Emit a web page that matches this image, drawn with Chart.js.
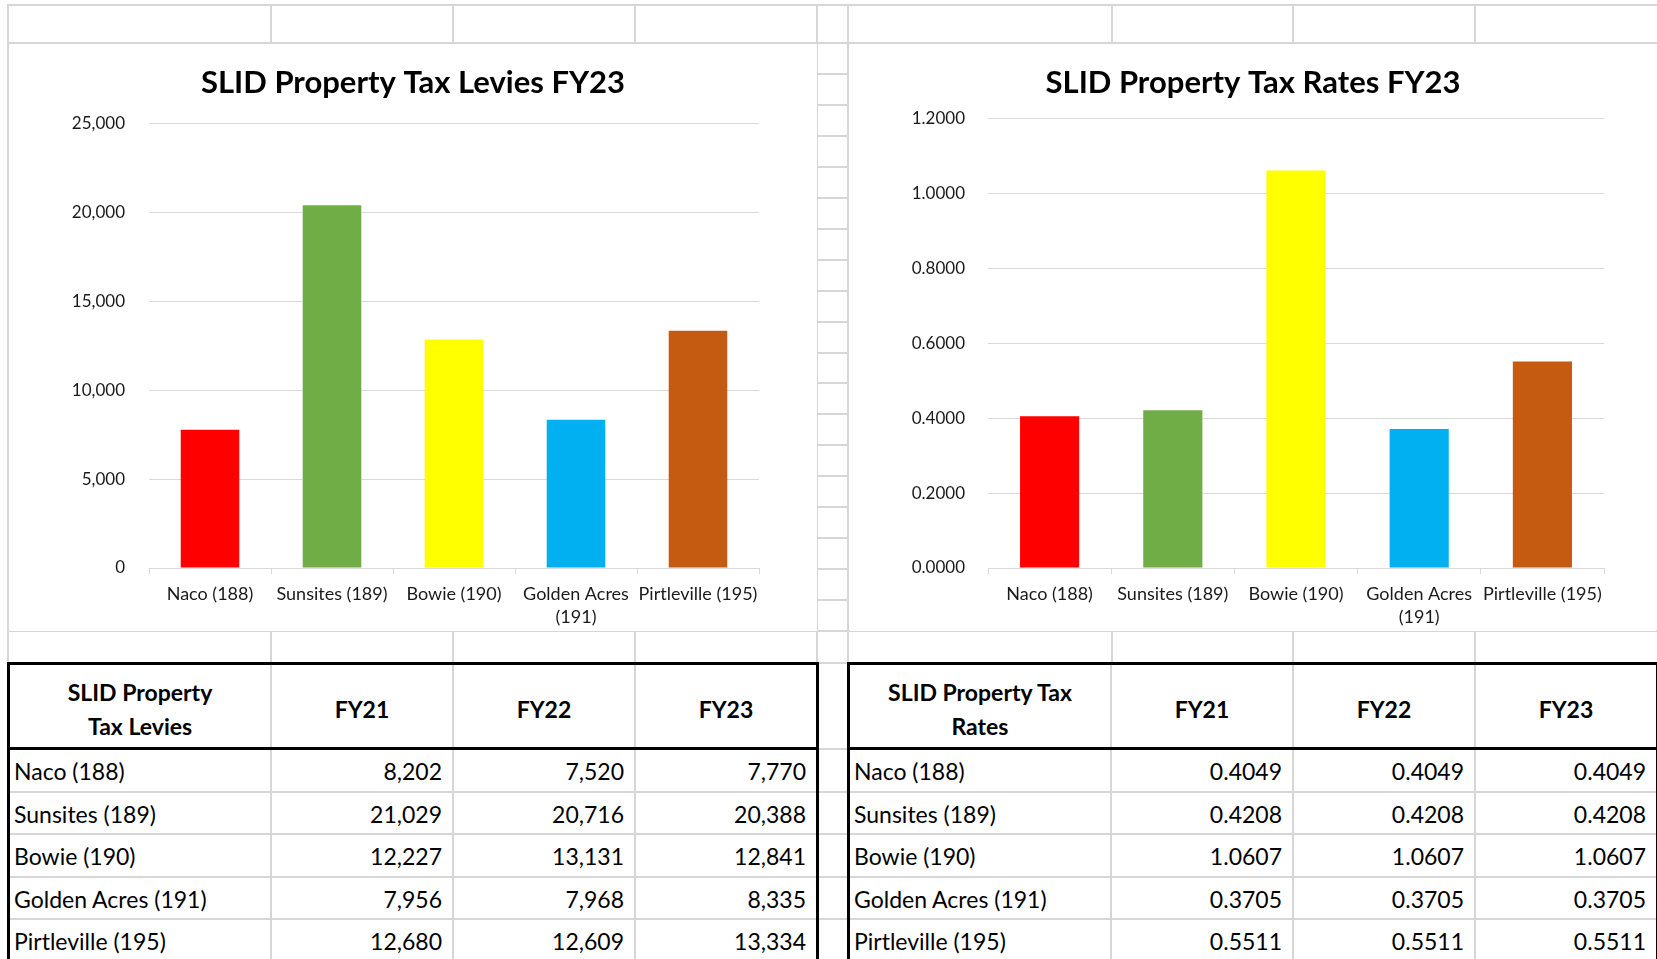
<!DOCTYPE html>
<html>
<head>
<meta charset="utf-8">
<title>SLID Property Tax FY23</title>
<script src="https://cdn.jsdelivr.net/npm/chart.js@4.4.1/dist/chart.umd.min.js"></script>
<style>
  html, body { margin:0; padding:0; background:#fff; overflow:hidden; width:1657px; height:959px; font-family:Lato, "Open Sans", sans-serif; }
  .gl { position:absolute; background:#d6d6d6; }
  .chartbox { position:absolute; background:#fff; }
  .tbl { position:absolute; box-sizing:border-box; border:3px solid #000; width:812px; color:#000; font-size:23px; background:#fff; }
  .row { display:grid; grid-template-columns:262px 182px 182px 180px; border-bottom:2px solid #d6d6d6; height:40.5px; }
  .row.head { height:82px; border-bottom:3px solid #000; }
  .cell { border-right:2px solid #d6d6d6; display:flex; align-items:center; overflow:hidden; white-space:nowrap; box-sizing:border-box; }
  .cell:last-child { border-right:none; }
  .head .cell { justify-content:center; text-align:center; font-weight:bold; white-space:normal; line-height:34px; padding-top:6px; }
  .cell.name { padding-left:4px; padding-top:2px; }
  .cell.num { justify-content:flex-end; padding-right:10px; padding-top:2px; }
</style>
</head>
<body>
<div id="lines"></div>
<div class="chartbox" style="left:9px;top:44px;width:808px;height:587px;"><canvas id="leviesChart"></canvas></div>
<div class="chartbox" style="left:850px;top:44px;width:806px;height:587px;"><canvas id="ratesChart"></canvas></div>
<div class="tbl" id="leviesTable" style="left:7px;top:662px;"></div>
<div class="tbl" id="ratesTable" style="left:847px;top:662px;"></div>

<script>
// districts
const districts = ["Naco (188)", "Sunsites (189)", "Bowie (190)", "Golden Acres (191)", "Pirtleville (195)"];
const axisLabels = ["Naco (188)", "Sunsites (189)", "Bowie (190)", ["Golden Acres", "(191)"], "Pirtleville (195)"];
const years = ["FY21", "FY22", "FY23"];

// levies
const leviesFY21 = [8202, 21029, 12227, 7956, 12680];
const leviesFY22 = [7520, 20716, 13131, 7968, 12609];
const leviesFY23 = [7770, 20388, 12841, 8335, 13334];

// rates
const ratesFY21 = [0.4049, 0.4208, 1.0607, 0.3705, 0.5511];
const ratesFY22 = [0.4049, 0.4208, 1.0607, 0.3705, 0.5511];
const ratesFY23 = [0.4049, 0.4208, 1.0607, 0.3705, 0.5511];

const barColors = ["#FF0000", "#70AD47", "#FFFF00", "#00B0F0", "#C55A11"];

// sheet grid lines behind / around the charts
const linesEl = document.getElementById("lines");
function hline(y, x1, x2) {
  const d = document.createElement("div");
  d.className = "gl";
  d.style.cssText = `left:${x1}px;top:${y-1}px;width:${x2-x1}px;height:2px;`;
  linesEl.appendChild(d);
}
function vline(x, y1, y2) {
  const d = document.createElement("div");
  d.className = "gl";
  d.style.cssText = `left:${x-1}px;top:${y1}px;width:2px;height:${y2-y1}px;`;
  linesEl.appendChild(d);
}
const colX = [8, 271, 453, 635, 817, 848, 1112, 1293, 1475];
hline(5, 7, 1657); hline(43, 7, 1657); hline(631, 7, 1657); hline(663, 7, 1657);
colX.forEach(x => { vline(x, 4, 44); vline(x, 630, 664); });
vline(8, 43, 632); vline(817, 4, 959); vline(848, 4, 959);
for (let k = 1; k < 19; k++) hline(43 + k * 30.95, 817, 848);
[749, 791.5, 834, 876.5, 919].forEach(y => hline(y, 817, 848));

// tables
function buildTable(el, title, cols, fmt) {
  let html = `<div class="row head"><div class="cell">${title}</div>` +
    years.map(y => `<div class="cell">${y}</div>`).join("") + `</div>`;
  districts.forEach((d, i) => {
    html += `<div class="row"><div class="cell name">${d}</div>` +
      cols.map(c => `<div class="cell num">${fmt(c[i])}</div>`).join("") + `</div>`;
  });
  el.innerHTML = html;
}
buildTable(document.getElementById("leviesTable"), "SLID Property<br>Tax Levies",
  [leviesFY21, leviesFY22, leviesFY23], v => v.toLocaleString("en-US"));
buildTable(document.getElementById("ratesTable"), "SLID Property Tax<br>Rates",
  [ratesFY21, ratesFY22, ratesFY23], v => v.toFixed(4));

// charts
Chart.defaults.font.family = "Lato, 'Open Sans', sans-serif";
Chart.defaults.color = "#1a1a1a";

function makeChart(id, title, values, opts) {
  return new Chart(document.getElementById(id), {
    type: "bar",
    data: {
      labels: axisLabels,
      datasets: [{ data: values, backgroundColor: barColors, barPercentage: 0.48, categoryPercentage: 1 }]
    },
    options: {
      responsive: true,
      maintainAspectRatio: false,
      animation: false,
      layout: { autoPadding: false, padding: 0 },
      plugins: {
        legend: { display: false },
        tooltip: { enabled: false },
        title: {
          display: true, text: title, color: "#000",
          font: { size: 31, weight: "bold", lineHeight: 1.2 },
          padding: { top: 20, bottom: opts.titleBottom }
        }
      },
      scales: {
        x: {
          afterFit: s => { s.height = 63; },
          grid: { offset: true, drawOnChartArea: false, drawTicks: true, tickLength: 6, color: "#d9d9d9" },
          border: { display: true, color: "#d9d9d9", width: 1 },
          ticks: { font: { size: 18, lineHeight: 1.3 }, padding: 8, maxRotation: 0, autoSkip: false }
        },
        y: {
          min: 0, max: opts.max,
          afterFit: s => { s.width = opts.yWidth; },
          grid: { color: "#d9d9d9", drawTicks: false },
          border: { display: false },
          ticks: { stepSize: opts.step, padding: opts.yPad, font: { size: 17 }, callback: opts.fmt }
        },
        // empty right-hand margin so the title stays centred on the whole chart
        spacer: {
          type: "linear", position: "right",
          afterFit: s => { s.width = opts.padRight; },
          grid: { display: false }, border: { display: false }, ticks: { display: false }
        }
      }
    }
  });
}

makeChart("leviesChart", "SLID Property Tax Levies FY23", leviesFY23, {
  padRight: 58, titleBottom: 22, yWidth: 140, yPad: 24, max: 25000, step: 5000,
  fmt: v => Number(v).toLocaleString("en-US")
});
makeChart("ratesChart", "SLID Property Tax Rates FY23", ratesFY23, {
  padRight: 52, titleBottom: 17, yWidth: 138, yPad: 23, max: 1.2, step: 0.2,
  fmt: v => Number(v).toFixed(4)
});
</script>
</body>
</html>
